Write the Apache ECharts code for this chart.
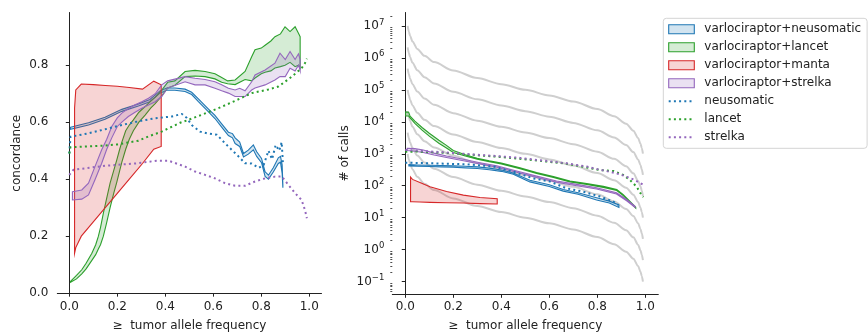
<!DOCTYPE html>
<html><head><meta charset="utf-8">
<script src="https://cdn.jsdelivr.net/npm/echarts@6/dist/echarts.min.js"></script>
<style>html,body{margin:0;padding:0;background:#fff}#c{width:868px;height:335px}</style>
</head><body><div id="c"></div>
<script>
// ---------- tick labels ----------
const freqTicks = [0, 0.2, 0.4, 0.6, 0.8, 1.0];
const concTicks = [0, 0.2, 0.4, 0.6, 0.8];
const callsTicks = [0.1, 1, 10, 100, 1000, 10000, 100000, 1000000, 10000000];

// ---------- left: concordance ----------
const concX_neu = [0.005,0.08,0.149,0.219,0.288,0.336,0.378,0.406,0.44,0.4825,0.51,0.538,0.579,0.607,0.635,0.663,0.68,0.691,0.71,0.726,0.746,0.767,0.781,0.801,0.816,0.83,0.85,0.871,0.88,0.887,0.89];
const concHi_neu = [0.582,0.598,0.617,0.645,0.664,0.68,0.71,0.72,0.72,0.716,0.705,0.682,0.647,0.624,0.594,0.565,0.56,0.545,0.53,0.49,0.502,0.52,0.496,0.473,0.426,0.414,0.44,0.475,0.48,0.45,0.38];
const concLo_neu = [0.575,0.59,0.61,0.638,0.657,0.672,0.702,0.712,0.712,0.708,0.697,0.672,0.637,0.613,0.583,0.553,0.545,0.525,0.515,0.478,0.488,0.503,0.48,0.458,0.41,0.4,0.425,0.455,0.46,0.42,0.37];

const concX_lan = [0.005,0.03,0.052,0.07,0.094,0.11,0.121,0.13,0.142,0.155,0.17,0.185,0.198,0.21,0.219,0.235,0.25,0.267,0.29,0.316,0.34,0.358,0.383,0.41,0.44,0.4825,0.524,0.566,0.607,0.635,0.66,0.691,0.7325,0.76,0.774,0.8,0.816,0.84,0.857,0.88,0.899,0.92,0.941,0.955,0.962];
const concHi_lan = [0.041,0.062,0.082,0.105,0.14,0.17,0.199,0.23,0.281,0.33,0.386,0.43,0.468,0.505,0.53,0.57,0.59,0.608,0.635,0.655,0.675,0.688,0.71,0.74,0.745,0.778,0.782,0.778,0.77,0.757,0.745,0.748,0.778,0.83,0.854,0.86,0.87,0.885,0.9,0.91,0.935,0.918,0.935,0.912,0.9];
const concLo_lan = [0.038,0.05,0.068,0.085,0.115,0.135,0.155,0.17,0.2,0.245,0.3,0.35,0.39,0.43,0.46,0.505,0.54,0.57,0.6,0.625,0.65,0.665,0.69,0.72,0.73,0.76,0.762,0.76,0.752,0.74,0.735,0.732,0.75,0.745,0.755,0.77,0.775,0.78,0.79,0.795,0.8,0.81,0.795,0.8,0.79];

const concX_man = [0.022,0.027,0.05,0.1,0.15,0.2,0.25,0.305,0.352,0.383];
const concHi_man = [0.65,0.713,0.734,0.732,0.729,0.726,0.722,0.716,0.744,0.731];
const concLo_man = [0.14,0.16,0.2,0.25,0.3,0.35,0.4,0.455,0.505,0.515];

const concX_str = [0.013,0.052,0.08,0.107,0.135,0.156,0.177,0.2,0.219,0.246,0.274,0.302,0.33,0.358,0.385,0.41,0.4825,0.524,0.566,0.607,0.635,0.663,0.691,0.71,0.7325,0.76,0.774,0.816,0.857,0.878,0.9,0.92,0.941,0.955,0.962];
const concHi_str = [0.356,0.362,0.386,0.444,0.503,0.54,0.585,0.615,0.632,0.648,0.661,0.672,0.684,0.7,0.731,0.745,0.76,0.754,0.75,0.742,0.731,0.719,0.713,0.719,0.71,0.742,0.766,0.783,0.807,0.842,0.82,0.848,0.82,0.84,0.82];
const concLo_str = [0.327,0.33,0.345,0.398,0.456,0.505,0.545,0.585,0.6,0.62,0.635,0.649,0.66,0.672,0.69,0.72,0.742,0.731,0.731,0.719,0.71,0.702,0.69,0.69,0.69,0.713,0.72,0.731,0.748,0.76,0.76,0.789,0.78,0.8,0.78];

const concX_neuOnly = [0,0.005,0.08,0.149,0.219,0.288,0.358,0.427,0.469,0.49,0.51,0.545,0.573,0.615,0.649,0.677,0.705,0.732,0.76,0.79,0.81,0.83,0.845,0.86,0.875,0.885,0.89];
const concY_neuOnly = [0.49,0.549,0.561,0.575,0.59,0.603,0.614,0.62,0.629,0.615,0.59,0.567,0.561,0.556,0.526,0.503,0.48,0.456,0.455,0.44,0.45,0.5,0.47,0.52,0.5,0.53,0.46];
const concX_lanOnly = [0,0.005,0.073,0.149,0.2,0.288,0.336,0.385,0.43,0.462,0.496,0.552,0.621,0.691,0.76,0.83,0.871,0.899,0.927,0.948,0.968,0.982,0.99];
const concY_lanOnly = [0.49,0.512,0.515,0.518,0.522,0.535,0.552,0.567,0.585,0.598,0.608,0.626,0.649,0.675,0.702,0.715,0.725,0.742,0.76,0.775,0.789,0.807,0.823];
const concX_strOnly = [0,0.017,0.149,0.288,0.364,0.413,0.4825,0.524,0.566,0.607,0.649,0.691,0.7325,0.774,0.816,0.857,0.885,0.913,0.941,0.968,0.982,0.99];
const concY_strOnly = [0.415,0.433,0.447,0.456,0.465,0.465,0.444,0.427,0.415,0.403,0.386,0.377,0.377,0.392,0.403,0.409,0.41,0.38,0.351,0.327,0.292,0.263];

// ---------- right: # of calls ----------
const callsX_neu = [0.015,0.05,0.1,0.15,0.2,0.25,0.3,0.35,0.4,0.45,0.519,0.6,0.658,0.72,0.797,0.85,0.89];
const callsHi_neu = [457,447,437,427,417,407,389,355,309,251,148,107,76,60,42,33,25];
const callsLo_neu = [417,407,398,389,380,363,347,316,282,229,132,95,68,54,36,29,21];

const callsX_lan = [0.002,0.014,0.02,0.04,0.07,0.1,0.14,0.17,0.2,0.25,0.3,0.35,0.4,0.478,0.547,0.617,0.686,0.756,0.825,0.881,0.908,0.936,0.96];
const callsHi_lan = [20420,19950,15140,10470,6607,4365,2630,1862,1259,933,724,603,513,363,257,195,141,117,95.5,75.9,52.5,32.4,21.4];
const callsLo_lan = [15140,15140,13180,8913,5495,3548,2138,1549,1096,851,676,562,479,339,240,182,132,110,89.1,70.8,49,30.2,20];

const callsX_man = [0.022,0.03,0.061,0.103,0.172,0.242,0.311,0.383];
const callsHi_man = [186,158,126,93,66,51,43,39];
const callsLo_man = [31.6,31.6,30.9,30.2,29.5,28.8,27.5,26.9];

const callsX_str = [0.008,0.04,0.075,0.12,0.172,0.242,0.311,0.381,0.464,0.547,0.63,0.714,0.797,0.88,0.922,0.957];
const callsHi_str = [1479,1445,1318,1047,851,676,525,417,288,200,141,110,87,60,37,23];
const callsLo_str = [1259,1202,1096,912,759,603,479,380,263,182,129,100,79,55,34,21];

const callsX_neuOnly = [0,0.117,0.256,0.367,0.45,0.533,0.603,0.672,0.742,0.811,0.867,0.888];
const callsY_neuOnly = [525,501,468,398,275,170,135,83,65,46,32,25];
const callsX_lanOnly = [0,0.05,0.186,0.394,0.533,0.672,0.811,0.867,0.908,0.936,0.964,0.985,0.992];
const callsY_lanOnly = [1148,1175,1047,794,631,490,309,288,219,151,93,50,44];
const callsX_strOnly = [0,0.05,0.186,0.3,0.394,0.478,0.533,0.617,0.672,0.756,0.811,0.85,0.894,0.95,0.97,0.992];
const callsY_strOnly = [1318,1259,1072,933,832,741,661,562,501,398,316,275,229,158,132,107];

// grey reference curves
const refX = [0.01,0.015,0.02,0.03,0.05,0.08,0.12,0.2,0.3,0.4,0.5,0.6,0.7,0.8,0.87,0.92,0.95,0.97,0.98,0.985,0.99];
const ref1 = [9.9e6,6.57e6,4.9e6,3.23e6,1.9e6,1.15e6,7.33e5,4.0e5,2.33e5,1.5e5,1.0e5,6.67e4,4.29e4,2.5e4,1.49e4,8.7e3,5.26e3,3.09e3,2.04e3,1.52e3,1.01e3];
const ref2 = [2.13e6,1.415e6,1.056e6,6.96e5,4.09e5,2.48e5,1.58e5,8.62e4,5.03e4,3.23e4,2.15e4,1.44e4,9.23e3,5.39e3,3.21e3,1.87e3,1.13e3,666,440,327,218];
const ref3 = [4.6e5,3.05e5,2.27e5,1.5e5,8.82e4,5.34e4,3.4e4,1.86e4,1.08e4,6.96e3,4.64e3,3.1e3,1.99e3,1.16e3,692,404,244,143,94.7,70.6,46.9];
const ref4 = [9.9e4,6.57e4,4.9e4,3.23e4,1.9e4,1.15e4,7.33e3,4.0e3,2.33e3,1.5e3,1.0e3,667,429,250,149,87,52.6,30.9,20.4,15.2,10.1];
const ref5 = [2.13e4,1.415e4,1.056e4,6.96e3,4.09e3,2.48e3,1.58e3,862,503,323,215,144,92.3,53.9,32.1,18.7,11.3,6.66,4.4,3.27,2.18];
const ref6 = [4.6e3,3.05e3,2.27e3,1.5e3,882,534,340,186,108,69.6,46.4,31.0,19.9,11.6,6.92,4.04,2.44,1.43,0.947,0.706,0.469];
const ref7 = [990,657,490,323,190,115,73.3,40,23.3,15,10,6.67,4.29,2.5,1.49,0.87,0.526,0.309,0.204,0.152,0.101];

// ---------- styling ----------
const FONT = 'DejaVu Sans';
const INK = '#222';
const COL = {neu:'#1f77b4', lan:'#2ca02c', man:'#d62728', str:'#9467bd'};
const NAMES = {neu:'varlociraptor+neusomatic', lan:'varlociraptor+lancet', man:'varlociraptor+manta', str:'varlociraptor+strelka',
  neuOnly:'neusomatic', lanOnly:'lancet', strOnly:'strelka'};
function fade(hex, a) {
  const n = parseInt(hex.slice(1), 16);
  return 'rgba(' + (n >> 16 & 255) + ',' + (n >> 8 & 255) + ',' + (n & 255) + ',' + a + ')';
}
function band(name, color, xs, lo, hi, gi) {
  const fill = fade(color, 0.2);
  return {
    type: 'custom', name: name, xAxisIndex: gi, yAxisIndex: gi, z: 2, silent: true,
    data: xs.map((x, i) => [x, lo[i], hi[i]]),
    encode: {x: 0, y: [1, 2]},
    itemStyle: {color: fill, borderColor: color},
    renderItem: function (params, api) {
      if (params.dataIndex !== 0) return null;
      const pts = [];
      for (let i = 0; i < xs.length; i++) pts.push(api.coord([xs[i], hi[i]]));
      for (let i = xs.length - 1; i >= 0; i--) pts.push(api.coord([xs[i], lo[i]]));
      return {type: 'polygon', shape: {points: pts}, style: {fill: fill, stroke: color, lineWidth: 1.1}};
    }
  };
}
function dotted(name, color, xs, ys, gi) {
  return {
    type: 'line', name: name, xAxisIndex: gi, yAxisIndex: gi, z: 3, silent: true,
    data: xs.map((x, i) => [x, ys[i]]), symbol: 'none', showSymbol: false,
    lineStyle: {color: color, width: 2, type: [2, 3.2]}, itemStyle: {color: color}
  };
}
function grey(ys) {
  return {
    type: 'line', name: 'ref', xAxisIndex: 1, yAxisIndex: 1, z: 1, silent: true,
    data: refX.map((x, i) => [x, ys[i]]), symbol: 'none', smooth: 0.3, smoothMonotone: 'x',
    lineStyle: {color: '#cfcfcf', width: 2}
  };
}
const axisLineStyle = {color: INK, width: 1};
const labelStyle = {fontFamily: FONT, fontSize: 12, color: INK};
const nameStyle = {fontFamily: FONT, fontSize: 12, color: INK};

function xAxis(gi, min, max) {
  return {
    type: 'value', gridIndex: gi, min: min, max: max,
    axisLine: {show: true, lineStyle: axisLineStyle},
    axisTick: {show: true, length: 3.5, customValues: freqTicks, lineStyle: axisLineStyle},
    axisLabel: Object.assign({customValues: freqTicks, margin: 6.5, formatter: v => v.toFixed(1)}, labelStyle),
    splitLine: {show: false},
    name: '\u2265  tumor allele frequency', nameLocation: 'middle', nameGap: 26, nameTextStyle: nameStyle
  };
}
const minorTicks = [];
for (let e = -2; e <= 7; e++) for (let k = 2; k <= 9; k++) {
  const v = k * Math.pow(10, e);
  if (v > 0.0404 && v < 2.6e7) minorTicks.push(v);
}
function sup(v) {
  const e = Math.round(Math.log10(v));
  return '{b|10}{s|' + (e < 0 ? '\u2212' + (-e) : e) + '}';
}
const lineLegend = {opacity: 0};

const option = {
  animation: false,
  backgroundColor: '#fff',
  grid: [
    {left: 57.3, top: 12.5, width: 264.2, height: 281.5, containLabel: false, outerBoundsMode: 'none'},
    {left: 392.3, top: 12.5, width: 266, height: 281.8, containLabel: false, outerBoundsMode: 'none'}
  ],
  xAxis: [xAxis(0, -0.05, 1.051), xAxis(1, -0.054, 1.054)],
  yAxis: [
    {
      type: 'value', gridIndex: 0, min: -0.003, max: 0.985,
      axisLine: {show: true, lineStyle: axisLineStyle},
      axisTick: {show: true, length: 3.5, customValues: concTicks, lineStyle: axisLineStyle},
      axisLabel: Object.assign({customValues: concTicks, margin: 9, formatter: v => v.toFixed(1)}, labelStyle),
      splitLine: {show: false},
      name: 'concordance', nameLocation: 'middle', nameRotate: 90, nameGap: 34, nameTextStyle: nameStyle
    },
    {
      type: 'log', logBase: 10, gridIndex: 1, min: 0.04036, max: 2.606e7, position: 'left',
      axisLine: {show: true, lineStyle: axisLineStyle},
      axisTick: {show: true, length: 3.5, customValues: callsTicks, lineStyle: axisLineStyle},
      axisLabel: {
        customValues: callsTicks, margin: 8, formatter: sup,
        rich: {
          b: {fontFamily: FONT, fontSize: 12, color: INK, lineHeight: 16, verticalAlign: 'middle'},
          s: {fontFamily: FONT, fontSize: 8.5, color: INK, lineHeight: 9, verticalAlign: 'top'}
        }
      },
      splitLine: {show: false},
      name: '# of calls', nameLocation: 'middle', nameRotate: 90, nameGap: 41, nameTextStyle: nameStyle
    },
    {
      type: 'log', logBase: 10, gridIndex: 1, min: 0.04036, max: 2.606e7, position: 'left',
      axisLine: {show: false},
      axisTick: {show: true, length: 2, customValues: minorTicks, lineStyle: {color: INK, width: 0.8}},
      axisLabel: {show: false}, splitLine: {show: false}
    }
  ],
  legend: {
    orient: 'vertical', left: 663.3, top: 18.3, padding: [2, 6, 2, 4.4],
    itemGap: 0, itemWidth: 25.6, itemHeight: 9,
    backgroundColor: '#fff', borderColor: '#d4d4d4', borderWidth: 1, borderRadius: 3,
    textStyle: {fontFamily: FONT, fontSize: 12, color: INK, lineHeight: 18, padding: [0, 0, 0, 5]},
    data: [
      {name: NAMES.neu, icon: 'rect', itemStyle: {color: fade(COL.neu, 0.2), borderColor: COL.neu, borderWidth: 1.1}},
      {name: NAMES.lan, icon: 'rect', itemStyle: {color: fade(COL.lan, 0.2), borderColor: COL.lan, borderWidth: 1.1}},
      {name: NAMES.man, icon: 'rect', itemStyle: {color: fade(COL.man, 0.2), borderColor: COL.man, borderWidth: 1.1}},
      {name: NAMES.str, icon: 'rect', itemStyle: {color: fade(COL.str, 0.2), borderColor: COL.str, borderWidth: 1.1}},
      {name: NAMES.neuOnly, itemStyle: lineLegend},
      {name: NAMES.lanOnly, itemStyle: lineLegend},
      {name: NAMES.strOnly, itemStyle: lineLegend}
    ]
  },
  series: [
    band(NAMES.neu, COL.neu, concX_neu, concLo_neu, concHi_neu, 0),
    band(NAMES.lan, COL.lan, concX_lan, concLo_lan, concHi_lan, 0),
    band(NAMES.man, COL.man, concX_man, concLo_man, concHi_man, 0),
    band(NAMES.str, COL.str, concX_str, concLo_str, concHi_str, 0),
    dotted(NAMES.neuOnly, COL.neu, concX_neuOnly, concY_neuOnly, 0),
    dotted(NAMES.lanOnly, COL.lan, concX_lanOnly, concY_lanOnly, 0),
    dotted(NAMES.strOnly, COL.str, concX_strOnly, concY_strOnly, 0),
    grey(ref1), grey(ref2), grey(ref3), grey(ref4), grey(ref5), grey(ref6), grey(ref7),
    band(NAMES.neu, COL.neu, callsX_neu, callsLo_neu, callsHi_neu, 1),
    band(NAMES.lan, COL.lan, callsX_lan, callsLo_lan, callsHi_lan, 1),
    band(NAMES.man, COL.man, callsX_man, callsLo_man, callsHi_man, 1),
    band(NAMES.str, COL.str, callsX_str, callsLo_str, callsHi_str, 1),
    dotted(NAMES.neuOnly, COL.neu, callsX_neuOnly, callsY_neuOnly, 1),
    dotted(NAMES.lanOnly, COL.lan, callsX_lanOnly, callsY_lanOnly, 1),
    dotted(NAMES.strOnly, COL.str, callsX_strOnly, callsY_strOnly, 1)
  ]
};
const chart = echarts.init(document.getElementById('c'), null, {renderer: 'canvas'});
chart.setOption(option);
</script></body></html>
